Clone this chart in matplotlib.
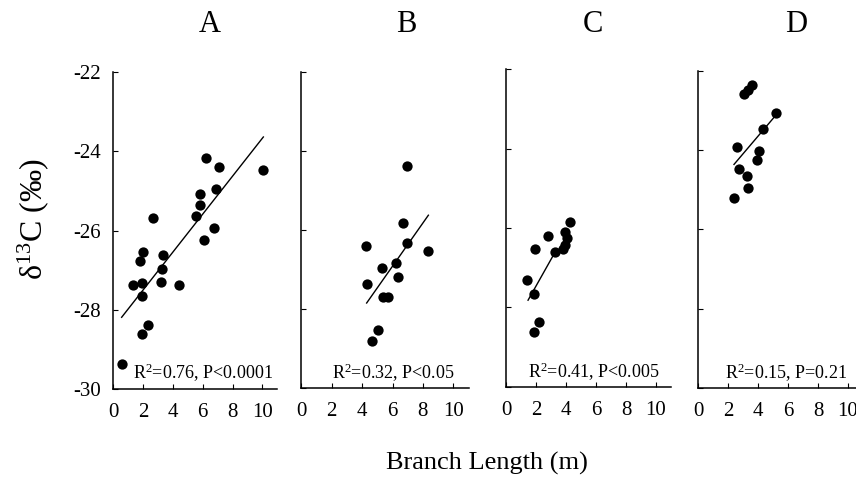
import matplotlib
matplotlib.use("Agg")
import matplotlib.pyplot as plt

plt.rcParams['font.family'] = ['Liberation Serif', 'DejaVu Serif']
plt.rcParams['mathtext.fontset'] = 'custom'
plt.rcParams['mathtext.rm'] = 'Liberation Serif'
plt.rcParams['mathtext.it'] = 'Liberation Serif:italic'
plt.rcParams['mathtext.bf'] = 'Liberation Serif:bold'

# ---- data ----
panel_names = ["A", "B", "C", "D"]

a_x = [0.56, 1.34, 1.95, 1.90, 1.79, 1.97, 1.90, 2.31, 2.64, 3.36, 3.25, 3.18,
       4.39, 5.53, 5.82, 5.84, 6.20, 6.09, 6.76, 6.87, 7.09, 10.02]
a_y = [-29.36, -27.38, -27.33, -27.65, -26.78, -26.53, -28.60, -28.38, -25.68,
       -26.61, -26.96, -27.29, -27.38, -25.63, -25.36, -25.08, -24.18, -26.25,
       -25.94, -24.96, -24.40, -24.48]
a_fit_x = [0.56, 10.07]
a_fit_y = [-28.19, -23.64]

b_x = [6.97, 6.67, 6.98, 8.36, 6.23, 5.31, 6.34, 5.40, 5.70, 5.05, 4.65, 4.26, 4.34]
b_y = [-24.39, -25.82, -26.32, -26.53, -26.84, -26.96, -27.20, -27.70, -27.70,
       -28.54, -28.81, -26.41, -27.36]
b_fit_x = [4.30, 8.36]
b_fit_y = [-27.85, -25.63]

c_x = [4.27, 3.93, 4.04, 3.93, 3.82, 2.78, 1.93, 3.27, 1.42, 1.87, 2.22, 1.87]
c_y = [-25.84, -26.11, -26.26, -26.43, -26.53, -26.20, -26.53, -26.60, -27.31,
       -27.66, -28.38, -28.61]
c_fit_x = [1.47, 3.27]
c_fit_y = [-27.82, -26.61]

d_x = [3.09, 3.31, 3.58, 5.20, 4.35, 2.62, 4.09, 3.91, 2.76, 3.29, 3.31, 2.40]
d_y = [-22.59, -22.48, -22.36, -23.05, -23.46, -23.92, -24.02, -24.26, -24.47,
       -24.65, -24.96, -25.21]
d_fit_x = [2.40, 5.25]
d_fit_y = [-24.36, -23.09]

stats_text = ["R$^{\\mathrm{2}}$=0.76, P<0.0001",
              "R$^{\\mathrm{2}}$=0.32, P<0.05",
              "R$^{\\mathrm{2}}$=0.41, P<0.005",
              "R$^{\\mathrm{2}}$=0.15, P=0.21"]

x_ticks = [0, 2, 4, 6, 8, 10]
y_ticks = [-30, -28, -26, -24, -22]
y_tick_labels = ["-30", "-28", "-26", "-24", "-22"]
x_label = "Branch Length (m)"
y_label = "δ$^{\\mathrm{13}}$C (‰)"

# ---- layout (pixels) ----
W, H = 856, 479
fig = plt.figure(figsize=(W / 100, H / 100), dpi=100)

# left, top, right, bottom in pixels
boxes = [(113.3, 72.0, 277.2, 389.0),
         (301.3, 71.7, 468.5, 388.0),
         (506.0, 69.3, 671.0, 386.7),
         (698.0, 71.0, 863.0, 387.7)]
title_pos = [(210, 25), (406, 25), (593, 25), (796, 25)]
stat_pos = [(203, 373), (393, 373), (594, 372), (786, 373)]

xs = [a_x, b_x, c_x, d_x]
ys = [a_y, b_y, c_y, d_y]
fxs = [a_fit_x, b_fit_x, c_fit_x, d_fit_x]
fys = [a_fit_y, b_fit_y, c_fit_y, d_fit_y]

for i in range(4):
    l, t, r, b = boxes[i]
    ax = fig.add_axes([l / W, 1 - b / H, (r - l) / W, (b - t) / H])
    ax.scatter(xs[i], ys[i], s=55, color="black", zorder=3, linewidths=0)
    ax.plot(fxs[i], fys[i], color="black", lw=1.0, zorder=2)
    ax.set_xlim(0, 11)
    ax.set_ylim(-30, -22)
    for s in ["top", "right"]:
        ax.spines[s].set_visible(False)
    for s in ["left", "bottom"]:
        ax.spines[s].set_linewidth(1.1)
        ax.spines[s].set_color("black")
    ax.set_xticks(x_ticks)
    ax.set_yticks(y_ticks)
    ax.tick_params(direction="in", length=3.5, width=0.8, labelsize=15, colors="black")
    ax.tick_params(axis="x", pad=10)
    ax.tick_params(axis="y", pad=9)
    if i == 0:
        ax.set_yticklabels(y_tick_labels)
    else:
        ax.set_yticklabels([])
    ax.patch.set_alpha(0)
    fig.text(title_pos[i][0] / W, 1 - title_pos[i][1] / H, panel_names[i],
             fontsize=22, ha="center", va="center")
    fig.text(stat_pos[i][0] / W, 1 - stat_pos[i][1] / H, stats_text[i],
             fontsize=13, ha="center", va="center")

fig.text(33 / W, 1 - 219 / H, y_label, rotation=90, fontsize=23,
         ha="center", va="center")
fig.text(487 / W, 1 - 463 / H, x_label, fontsize=19, ha="center", va="center")

fig.savefig("out.png", dpi=100)
